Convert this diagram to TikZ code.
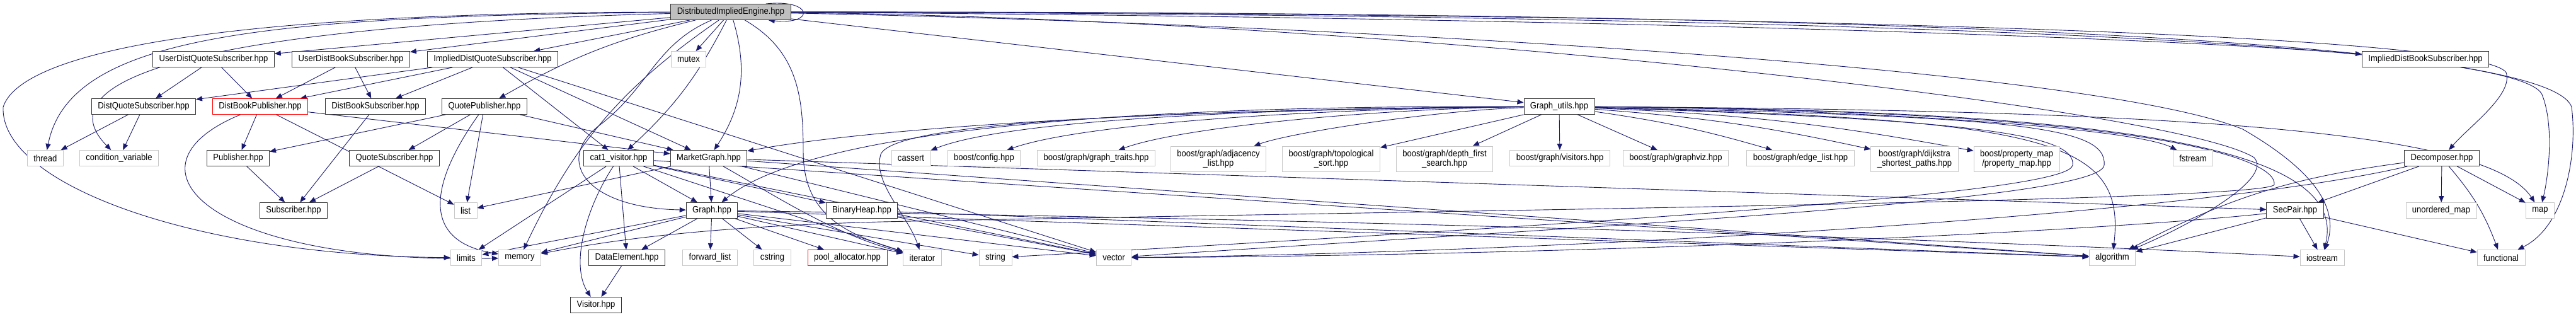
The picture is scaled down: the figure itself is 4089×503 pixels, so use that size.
\documentclass[tikz,border=0pt]{standalone}
\usepackage{fontspec}
\usepackage{xcolor}
\usetikzlibrary{arrows.meta}
\newfontfamily\dotfont{Liberation Sans}[FakeStretch=0.9]
\definecolor{depblue}{HTML}{191970}
\pgfdeclarelayer{edges}
\pgfsetlayers{edges,main}
\tikzset{
  hdr/.style={draw=black!80, line width=0.9pt, fill=white, font={\dotfont\fontsize{14.5}{15}\selectfont},
    inner xsep=10pt, inner ysep=0pt, minimum height=25pt, align=center},
  syshdr/.style={hdr, draw=black!22},
  cuthdr/.style={hdr, draw=red},
  tophdr/.style={hdr, fill=black!25},
  tallhdr/.style={syshdr, minimum height=40pt},
  dep/.style={draw=depblue, line width=0.9pt, -{Triangle[length=10pt,width=8pt]}}
}
\begin{document}
\begin{tikzpicture}[x=1pt,y=1pt]
    \useasboundingbox (0,0) rectangle (4089,-503);

    % Top file
    \node[tophdr] (die) at (1160,-19) {DistributedImpliedEngine.hpp};

    % Row 1
    \node[hdr] (udqs) at (339,-94) {UserDistQuoteSubscriber.hpp};
    \node[hdr] (udbs) at (557,-94) {UserDistBookSubscriber.hpp};
    \node[hdr] (idqs) at (782,-94) {ImpliedDistQuoteSubscriber.hpp};
    \node[syshdr] (mutex) at (1093,-94) {mutex};
    \node[hdr] (idbs) at (3850,-94) {ImpliedDistBookSubscriber.hpp};

    % Row 2
    \node[hdr] (dqs) at (228,-169) {DistQuoteSubscriber.hpp};
    \node[cuthdr] (dbp) at (413,-169) {DistBookPublisher.hpp};
    \node[hdr] (dbs) at (596,-169) {DistBookSubscriber.hpp};
    \node[hdr] (qpub) at (769,-169) {QuotePublisher.hpp};
    \node[hdr] (gutils) at (2475,-169) {Graph\_utils.hpp};

    % Row 3
    \node[syshdr] (thread) at (72,-251) {thread};
    \node[syshdr] (condvar) at (189,-251) {condition\_variable};
    \node[hdr] (pub) at (378,-251) {Publisher.hpp};
    \node[hdr] (qsub) at (626,-251) {QuoteSubscriber.hpp};
    \node[hdr] (cat1) at (982,-251) {cat1\_visitor.hpp};
    \node[hdr] (mgraph) at (1125,-251) {MarketGraph.hpp};
    \node[syshdr] (cassert) at (1446,-251) {cassert};
    \node[syshdr] (bconfig) at (1562,-251) {boost/config.hpp};
    \node[syshdr] (gtraits) at (1740,-251) {boost/graph/graph\_traits.hpp};
    \node[tallhdr] (adjlist) at (1934,-252) {boost/graph/adjacency\\\_list.hpp};
    \node[tallhdr] (topo) at (2113,-252) {boost/graph/topological\\\_sort.hpp};
    \node[tallhdr] (dfs) at (2293,-252) {boost/graph/depth\_first\\\_search.hpp};
    \node[syshdr] (visitors) at (2476,-251) {boost/graph/visitors.hpp};
    \node[syshdr] (graphviz) at (2660,-251) {boost/graph/graphviz.hpp};
    \node[syshdr] (edgelist) at (2858,-251) {boost/graph/edge\_list.hpp};
    \node[tallhdr] (dijkstra) at (3039,-252) {boost/graph/dijkstra\\\_shortest\_paths.hpp};
    \node[tallhdr] (propmap) at (3201,-252) {boost/property\_map\\/property\_map.hpp};
    \node[syshdr] (fstream) at (3481,-251) {fstream};
    \node[hdr] (decomp) at (3876,-251) {Decomposer.hpp};

    % Row 4
    \node[hdr] (subscr) at (466,-334) {Subscriber.hpp};
    \node[syshdr] (list) at (739,-334) {list};
    \node[hdr] (graph) at (1130,-334) {Graph.hpp};
    \node[hdr] (bheap) at (1368,-334) {BinaryHeap.hpp};
    \node[hdr] (secpair) at (3643,-334) {SecPair.hpp};
    \node[syshdr] (umap) at (3875,-334) {unordered\_map};
    \node[syshdr] (map) at (4032,-334) {map};

    % Row 5
    \node[syshdr] (limits) at (740,-409) {limits};
    \node[syshdr] (memory) at (825,-409) {memory};
    \node[hdr] (delem) at (995,-409) {DataElement.hpp};
    \node[syshdr] (fwdlist) at (1127,-409) {forward\_list};
    \node[syshdr] (cstring) at (1226,-409) {cstring};
    \node[cuthdr] (pool) at (1345,-409) {pool\_allocator.hpp};
    \node[syshdr] (iterator) at (1464,-409) {iterator};
    \node[syshdr] (string) at (1580,-409) {string};
    \node[syshdr] (vector) at (1768,-409) {vector};
    \node[syshdr] (algorithm) at (3353,-409) {algorithm};
    \node[syshdr] (iostream) at (3686,-409) {iostream};
    \node[syshdr] (functional) at (3970,-409) {functional};

    % Row 6
    \node[hdr] (visitor) at (946,-484) {Visitor.hpp};

    \begin{pgfonlayer}{edges}
    % DistributedImpliedEngine.hpp
    \draw[dep] (die) -- (udqs);
    \draw[dep] (die) -- (udbs);
    \draw[dep] (die) -- (idqs);
    \draw[dep] (die) to[bend right=8] (qpub);
    \draw[dep] (die) -- (mutex);
    \draw[dep] (die) to[bend left=10] (cat1);
    \draw[dep] (die) to[bend left=25] (mgraph);
    \draw[dep] (die) to[bend right=15] (memory);
    \draw[dep] (die) .. controls (1040,-70) and (1030,-140) .. (950,-200) .. controls (880,-255) and (930,-330) .. (graph);
    \draw[dep] (die) .. controls (1265,-80) and (1275,-150) .. (1275,-240) .. controls (1275,-340) and (1340,-370) .. (iterator);
    \draw[dep] (die) .. controls (300,-20) and (30,-90) .. (5,-170) .. controls (0,-290) and (300,-405) .. (limits);
    \draw[dep] (die) .. controls (400,-25) and (110,-60) .. (thread);
    \draw[dep] (die) .. controls (350,-40) and (60,-120) .. (condvar);
    \draw[dep] (die) -- (gutils);
    \draw[dep] (die) .. controls (2200,-25) and (3300,-50) .. (idbs);
    \draw[dep] (die) .. controls (2500,-20) and (3930,-45) .. (3978,-115) .. controls (3990,-150) and (3920,-200) .. (decomp);
    \draw[dep] (die) .. controls (2500,-22) and (3990,-50) .. (4035,-150) .. controls (4055,-200) and (4045,-280) .. (map);
    \draw[dep] (die) .. controls (2500,-18) and (4040,-40) .. (4082,-170) .. controls (4092,-250) and (4070,-360) .. (functional);
    \draw[dep] (die) .. controls (2000,-35) and (3300,-100) .. (3560,-205) .. controls (3690,-280) and (3710,-340) .. (iostream);
    \draw[dep] (die) .. controls (2200,-30) and (3450,-170) .. (3578,-250) .. controls (3610,-285) and (3470,-360) .. (algorithm);
    \draw[dep] ([xshift=-40pt]die.north east) .. controls +(75,8) and +(75,-8) .. ([xshift=-36pt]die.south east);

    % Subscriber headers
    \draw[dep] (udqs) -- (dqs);
    \draw[dep] (udqs) -- (dbp);
    \draw[dep] (udbs) -- (dbp);
    \draw[dep] (udbs) -- (dbs);
    \draw[dep] (idqs) -- (dqs);
    \draw[dep] (idqs) -- (dbp);
    \draw[dep] (idqs) -- (dbs);
    \draw[dep] (idqs) -- (cat1);
    \draw[dep] (idqs) -- (mgraph);
    \draw[dep] (idqs) -- (vector);
    \draw[dep] (dqs) -- (thread);
    \draw[dep] (dqs) -- (condvar);
    \draw[dep] (dbs) -- (subscr);
    \draw[dep] (pub) -- (subscr);
    \draw[dep] (qsub) -- (subscr);

    % Publishers
    \draw[dep] (dbp) -- (pub);
    \draw[dep] (dbp) .. controls (180,-265) and (330,-420) .. (memory);
    \draw[dep] (dbp) -- (list);
    \draw[dep] (dbp) -- (mgraph);
    \draw[dep] (qpub) -- (pub);
    \draw[dep] (qpub) -- (qsub);
    \draw[dep] (qpub) -- (list);
    \draw[dep] (qpub) .. controls (690,-280) and (660,-380) .. (memory);
    \draw[dep] (qpub) -- (mgraph);

    % cat1_visitor.hpp
    \draw[dep] (cat1) -- (limits);
    \draw[dep] (cat1) .. controls (930,-330) and (905,-420) .. (visitor);
    \draw[dep] (cat1) -- (delem);
    \draw[dep] (cat1) -- (graph);
    \draw[dep] (cat1) -- (bheap);
    \draw[dep] (cat1) -- (iterator);
    \draw[dep] (cat1) -- (vector);
    \draw[dep] (cat1) -- (algorithm);

    % MarketGraph.hpp
    \draw[dep] (mgraph) -- (list);
    \draw[dep] (mgraph) -- (graph);
    \draw[dep] (mgraph) .. controls (1230,-310) and (1320,-370) .. (iterator);
    \draw[dep] (mgraph) -- (secpair);
    \draw[dep] (mgraph) -- (vector);
    \draw[dep] (mgraph) -- (algorithm);

    % Graph.hpp
    \draw[dep] (graph) -- (limits);
    \draw[dep] (graph) -- (memory);
    \draw[dep] (graph) -- (delem);
    \draw[dep] (graph) -- (fwdlist);
    \draw[dep] (graph) -- (cstring);
    \draw[dep] (graph) -- (pool);
    \draw[dep] (graph) -- (iterator);
    \draw[dep] (graph) -- (string);
    \draw[dep] (graph) -- (vector);
    \draw[dep] (graph) -- (algorithm);
    \draw[dep] (graph) .. controls (1950,-345) and (2900,-370) .. (iostream);
    \draw[dep] (bheap) -- (vector);
    \draw[dep] (bheap) -- (algorithm);
    \draw[dep] (delem) -- (visitor);

    % Graph_utils.hpp
    \draw[dep] (gutils) .. controls (1900,-172) and (1400,-200) .. (mgraph);
    \draw[dep] (gutils) .. controls (2210,-169) and (1333,-164) .. (graph);
    \draw[dep] (gutils) .. controls (1900,-175) and (1420,-190) .. (1398,-245) .. controls (1385,-290) and (1440,-340) .. (iterator);
    \draw[dep] (gutils) .. controls (2000,-172) and (1600,-190) .. (cassert);
    \draw[dep] (gutils) .. controls (2100,-172) and (1720,-195) .. (bconfig);
    \draw[dep] (gutils) .. controls (2200,-172) and (1880,-200) .. (gtraits);
    \draw[dep] (gutils) .. controls (2280,-175) and (2050,-210) .. (adjlist);
    \draw[dep] (gutils) -- (topo);
    \draw[dep] (gutils) -- (dfs);
    \draw[dep] (gutils) -- (visitors);
    \draw[dep] (gutils) -- (graphviz);
    \draw[dep] (gutils) to[bend left=4] (edgelist);
    \draw[dep] (gutils) to[bend left=4] (dijkstra);
    \draw[dep] (gutils) to[bend left=4] (propmap);
    \draw[dep] (gutils) .. controls (2900,-172) and (3380,-200) .. (fstream);
    \draw[dep] (gutils) .. controls (3500,-175) and (3950,-210) .. (map);
    \draw[dep] (gutils) .. controls (3350,-175) and (3730,-230) .. (iostream);
    \draw[dep] (gutils) .. controls (3250,-190) and (3375,-220) .. (algorithm);
    \draw[dep] (gutils) .. controls (3150,-190) and (3295,-215) .. (3290,-262) .. controls (3285,-300) and (2800,-340) .. (string);
    \draw[dep] (gutils) .. controls (3200,-185) and (3345,-200) .. (3340,-262) .. controls (3335,-320) and (2500,-360) .. (vector);
    \draw[dep] (gutils) .. controls (3400,-175) and (3615,-250) .. (3610,-293) .. controls (3600,-320) and (2200,-335) .. (1400,-352) .. controls (1100,-360) and (950,-385) .. (memory);

    % Decomposer.hpp and SecPair.hpp
    \draw[dep] (decomp) -- (secpair);
    \draw[dep] (decomp) -- (umap);
    \draw[dep] (decomp) -- (map);
    \draw[dep] (decomp) to[bend left=10] (functional);
    \draw[dep] (decomp) to[bend right=10] (algorithm);
    \draw[dep] (decomp) .. controls (3500,-340) and (2500,-400) .. (vector);
    \draw[dep] (secpair) -- (iostream);
    \draw[dep] (secpair) -- (functional);
    \draw[dep] (secpair) -- (algorithm);
    \draw[dep] (secpair) .. controls (3300,-370) and (2500,-405) .. (vector);
    \end{pgfonlayer}
\end{tikzpicture}
\end{document}
